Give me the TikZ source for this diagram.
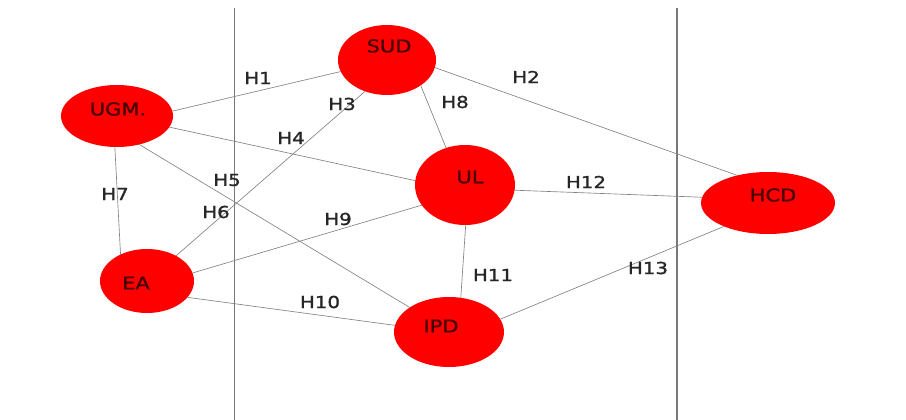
\documentclass[tikz,border=0pt]{standalone}
\usepackage{graphicx}
\usepackage{fontspec}
\setmainfont{DejaVu Sans}
\newfontfamily\heavysans[FakeBold=1.2]{DejaVu Sans}
\usetikzlibrary{shapes.geometric}
\definecolor{nodered}{RGB}{255,0,0}
\definecolor{nodetext}{RGB}{70,0,0}
\definecolor{edgegray}{RGB}{130,130,130}
\definecolor{rulegray}{RGB}{120,120,120}
\newcommand{\widetext}[1]{\scalebox{1.2}[1]{#1}}
\begin{document}
\begin{tikzpicture}[x=1pt,y=-1pt,
  actor/.style={ellipse, fill=nodered, draw=none, inner sep=0pt, outer sep=0pt},
  actorname/.style={font=\heavysans\fontsize{17.5}{20}\selectfont, text=nodetext, inner sep=0pt},
  link/.style={draw=edgegray, line width=0.65pt},
  hyp/.style={font=\heavysans\fontsize{16.5}{19}\selectfont, text=black!85, inner sep=0pt},
  rule/.style={draw=rulegray}]
\useasboundingbox (0,0) rectangle (906,420);

% vertical separators
\coordinate (r1top) at (234,8);
\coordinate (r1bot) at (234,420);
\coordinate (r2top) at (677,8);
\coordinate (r2bot) at (677,420);
\draw[rule, line width=0.9pt] (r1top) -- (r1bot);
\draw[rule, line width=1.6pt] (r2top) -- (r2bot);

% actors
\node[actor, minimum width=98pt,  minimum height=70pt] (sud) at (387,60)  {};
\node[actor, minimum width=112pt, minimum height=62pt] (ugm) at (117,116) {};
\node[actor, minimum width=100pt, minimum height=80pt] (ul)  at (465,185) {};
\node[actor, minimum width=134pt, minimum height=62pt] (hcd) at (768,203) {};
\node[actor, minimum width=94pt,  minimum height=64pt] (ea)  at (147,281) {};
\node[actor, minimum width=110pt, minimum height=70pt] (ipd) at (449,332) {};

\node[actorname] (sudname) at (389,46)  {\widetext{SUD}};
\node[actorname] (ugmname) at (118,109) {\widetext{UGM.}};
\node[actorname] (ulname)  at (470,177) {\widetext{UL}};
\node[actorname] (hcdname) at (773,195) {\widetext{HCD}};
\node[actorname] (eaname)  at (136,283) {\widetext{EA}};
\node[actorname] (ipdname) at (441,326) {\widetext{IPD}};

% relations
\draw[link] (ugm.5)   -- (sud.-166);
\draw[link] (sud.-9)  -- (hcd.138);
\draw[link] (ea.41)   -- (sud.-125);
\draw[link] (ugm.-12) -- (ul.175);
\draw[link] (ugm.-52) -- (ipd.148);
\draw[link] (ugm.-94) -- (ea.135);
\draw[link] (sud.-37) -- (ul.117);
\draw[link] (ea.10)   -- (ul.-155);
\draw[link] (ea.-22)  -- (ipd.173);
\draw[link] (ul.-89)  -- (ipd.71);
\draw[link] (ul.-6)   -- (hcd.175);
\draw[link] (ipd.14)  -- (hcd.-152);

% hypothesis labels
\node[hyp] (h1)  at (258,78)  {\widetext{H1}};
\node[hyp] (h2)  at (526,77)  {\widetext{H2}};
\node[hyp] (h3)  at (342,104) {\widetext{H3}};
\node[hyp] (h4)  at (291,138) {\widetext{H4}};
\node[hyp] (h5)  at (227,180) {\widetext{H5}};
\node[hyp] (h6)  at (216,212) {\widetext{H6}};
\node[hyp] (h7)  at (115,194) {\widetext{H7}};
\node[hyp] (h8)  at (455,102) {\widetext{H8}};
\node[hyp] (h9)  at (338,219) {\widetext{H9}};
\node[hyp] (h10) at (320,302) {\widetext{H10}};
\node[hyp] (h11) at (493,275) {\widetext{H11}};
\node[hyp] (h12) at (586,182) {\widetext{H12}};
\node[hyp] (h13) at (648,268) {\widetext{H13}};
\end{tikzpicture}
\end{document}
